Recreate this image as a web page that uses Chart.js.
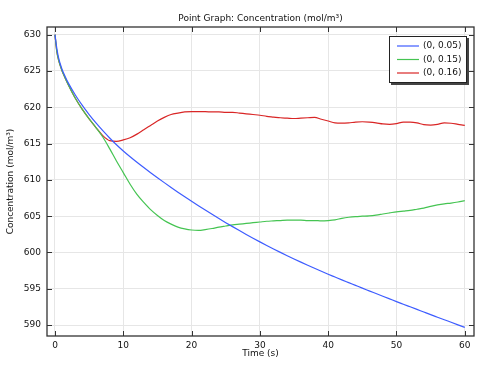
<!DOCTYPE html>
<html>
<head>
<meta charset="utf-8">
<script src="https://cdn.jsdelivr.net/npm/chart.js@4.4.0/dist/chart.umd.min.js"></script>
<style>
  html, body { margin: 0; padding: 0; background: #fff; }
  #wrap { width: 486px; height: 373px; position: relative; }
</style>
</head>
<body>
<div id="wrap"><canvas id="chart"></canvas></div>
<script>
// values
const times = [0, 0.25, 0.5, 1, 1.5, 2, 3, 4, 5, 6, 7, 8, 9, 10, 11, 12, 13, 14, 15, 16, 17, 18, 19, 20,
    21, 22, 23, 24, 25, 26, 27, 28, 29, 30, 31, 32, 33, 34, 35, 36, 37, 38, 39, 40,
    41, 42, 43, 44, 45, 46, 47, 48, 49, 50, 51, 52, 53, 54, 55, 56, 57, 58, 59, 60];

const conc005 = [630, 628.2, 626.9, 625.3, 624.2, 623.25, 621.65, 620.25, 618.99, 617.84, 616.77, 615.77, 614.84, 613.98,
    613.18, 612.42, 611.69, 610.98, 610.29, 609.62, 608.96, 608.31, 607.68, 607.06, 606.45, 605.85, 605.26, 604.68,
    604.11, 603.56, 603.02, 602.49, 601.97, 601.46, 600.97, 600.49, 600.02, 599.56, 599.11, 598.67, 598.24, 597.82,
    597.41, 597.01, 596.62, 596.23, 595.85, 595.47, 595.09, 594.72, 594.35, 593.98, 593.61, 593.24, 592.88, 592.52,
    592.16, 591.80, 591.44, 591.09, 590.74, 590.39, 590.04, 589.69];

const conc015 = [630, 627.8, 626.6, 625.1, 624.0, 623.0, 621.2, 619.7, 618.4, 617.2, 615.9, 614.3, 612.6, 611.0,
    609.4, 608.0, 606.9, 605.9, 605.1, 604.4, 603.9, 603.5, 603.25, 603.1, 603.05, 603.15, 603.3, 603.5,
    603.65, 603.8, 603.9, 604.0, 604.1, 604.2, 604.3, 604.35, 604.4, 604.45, 604.45, 604.45, 604.4, 604.4,
    604.35, 604.4, 604.5, 604.7, 604.85, 604.95, 605.0, 605.05, 605.15, 605.3, 605.45, 605.6, 605.7, 605.8,
    605.95, 606.1, 606.35, 606.55, 606.7, 606.8, 606.95, 607.15];

const conc016 = [630, 627.8, 626.6, 625.1, 624.0, 623.0, 621.2, 619.7, 618.4, 617.2, 616.1, 615.4, 615.3, 615.5,
    615.8, 616.3, 616.9, 617.5, 618.1, 618.6, 619.0, 619.2, 619.35, 619.4, 619.4, 619.4, 619.35, 619.35,
    619.3, 619.3, 619.2, 619.1, 619.0, 618.9, 618.75, 618.65, 618.55, 618.5, 618.45, 618.5, 618.55, 618.6,
    618.35, 618.1, 617.85, 617.8, 617.85, 617.95, 618.0, 617.95, 617.85, 617.7, 617.65, 617.75, 617.95, 617.95,
    617.85, 617.6, 617.55, 617.65, 617.85, 617.8, 617.65, 617.5];

const seriesLabels = ['(0, 0.05)', '(0, 0.15)', '(0, 0.16)'];
const seriesColors = ['#3d5cff', '#45c452', '#d92626'];
const xTicks = [0, 10, 20, 30, 40, 50, 60];
const yTicks = [590, 595, 600, 605, 610, 615, 620, 625, 630];

const FONT = 'DejaVu Sans';

function toPoints(ys) {
    return times.map((t, i) => ({ x: t, y: ys[i] }));
}

const datasets = [conc005, conc015, conc016].map((ys, i) => ({
    label: seriesLabels[i],
    data: toPoints(ys),
    borderColor: seriesColors[i],
    borderWidth: 1.2,
    pointRadius: 0,
    fill: false,
    cubicInterpolationMode: 'monotone'
}));

// frame, inward ticks, title and legend box drawn on top
const decorPlugin = {
    id: 'decor',
    afterDraw(chart) {
        const ctx = chart.ctx;
        const a = chart.chartArea;
        const xs = chart.scales.x, ys = chart.scales.y;
        ctx.save();

        // tick marks pointing inside on all four sides
        ctx.strokeStyle = '#333';
        ctx.lineWidth = 1;
        ctx.beginPath();
        xTicks.forEach(v => {
            const px = Math.round(xs.getPixelForValue(v)) + 0.5;
            ctx.moveTo(px, a.bottom); ctx.lineTo(px, a.bottom - 5);
            ctx.moveTo(px, a.top); ctx.lineTo(px, a.top + 5);
        });
        yTicks.forEach(v => {
            const py = Math.round(ys.getPixelForValue(v)) + 0.5;
            ctx.moveTo(a.left, py); ctx.lineTo(a.left + 5, py);
            ctx.moveTo(a.right, py); ctx.lineTo(a.right - 5, py);
        });
        ctx.stroke();

        // frame
        ctx.strokeStyle = '#333';
        ctx.lineWidth = 1.3;
        ctx.strokeRect(a.left, a.top, a.right - a.left, a.bottom - a.top);

        // title
        ctx.fillStyle = '#111';
        ctx.font = '9px "' + FONT + '"';
        ctx.textAlign = 'center';
        ctx.textBaseline = 'alphabetic';
        ctx.fillText('Point Graph: Concentration (mol/m³)', (a.left + a.right) / 2, 21);

        // axis titles
        ctx.fillText('Time (s)', (a.left + a.right) / 2, 356);
        ctx.save();
        ctx.translate(13, (a.top + a.bottom) / 2);
        ctx.rotate(-Math.PI / 2);
        ctx.fillText('Concentration (mol/m³)', 0, 0);
        ctx.restore();

        // legend box
        const bx = 389, by = 36, bw = 77, bh = 46;
        ctx.fillStyle = '#444';
        ctx.fillRect(bx + 2, by + 2, bw + 1, bh + 1);
        ctx.fillStyle = '#fff';
        ctx.fillRect(bx, by, bw, bh);
        ctx.strokeStyle = '#222';
        ctx.lineWidth = 1;
        ctx.strokeRect(bx + 0.5, by + 0.5, bw, bh);
        ctx.textAlign = 'left';
        ctx.textBaseline = 'middle';
        chart.data.datasets.forEach((ds, i) => {
            const ly = by + 10 + i * 13.5;
            ctx.strokeStyle = ds.borderColor;
            ctx.lineWidth = 1.2;
            ctx.beginPath();
            ctx.moveTo(bx + 8, ly);
            ctx.lineTo(bx + 30, ly);
            ctx.stroke();
            ctx.fillStyle = '#111';
            ctx.fillText(ds.label, bx + 34, ly);
        });
        ctx.restore();
    }
};

new Chart(document.getElementById('chart'), {
    type: 'line',
    data: { datasets: datasets },
    options: {
        responsive: true,
        maintainAspectRatio: false,
        animation: false,
        layout: { padding: { top: 27, right: 12, left: 0, bottom: 0 } },
        plugins: {
            legend: { display: false },
            title: { display: false },
            tooltip: { enabled: false }
        },
        scales: {
            x: {
                type: 'linear',
                min: -1.17,
                max: 61.35,
                afterBuildTicks: s => { s.ticks = xTicks.map(v => ({ value: v })); },
                afterFit: s => { s.height = 37; },
                grid: { color: '#e6e6e6', drawTicks: false },
                border: { display: false },
                ticks: { color: '#111', font: { family: FONT, size: 9 }, padding: 4, maxRotation: 0 }
            },
            y: {
                min: 588.5,
                max: 631.05,
                afterBuildTicks: s => { s.ticks = yTicks.map(v => ({ value: v })); },
                afterFit: s => { s.width = 47; },
                grid: { color: '#e6e6e6', drawTicks: false },
                border: { display: false },
                ticks: { color: '#111', font: { family: FONT, size: 9 }, padding: 6 }
            }
        }
    },
    plugins: [decorPlugin]
});
</script>
</body>
</html>
